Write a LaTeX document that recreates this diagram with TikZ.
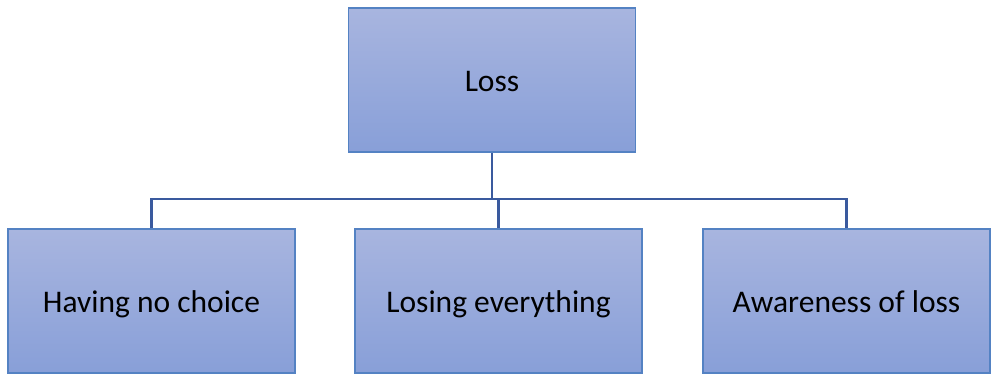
\documentclass[tikz,border=0pt]{standalone}
\usepackage{fontspec}
\setmainfont{Carlito}
\definecolor{boxtop}{RGB}{168,181,223}
\definecolor{boxbot}{RGB}{136,159,216}
\definecolor{boxline}{RGB}{84,130,195}
\definecolor{conn}{RGB}{58,90,158}
\begin{document}
\begin{tikzpicture}[x=1pt,y=-1pt,
  boxnode/.style={draw=boxline,line width=1.6pt,top color=boxtop,bottom color=boxbot,
    minimum width=287pt,minimum height=144pt,inner sep=0pt,text height=22pt,text depth=0pt,
    font=\fontsize{31.5}{36}\selectfont,text=black},
  connline/.style={draw=conn,line width=2.4pt}]
\useasboundingbox (0,0) rectangle (991,375);
\node[boxnode] (top) at (492,80) {Loss};
\node[boxnode] (b1) at (151.5,301) {Having no choice};
\node[boxnode] (b2) at (498.5,301) {Losing everything};
\node[boxnode] (b3) at (846.5,301) {Awareness of loss};
\coordinate (j) at (492,199);
\draw[connline] (top.south) -- (j);
\draw[connline] (b1.north) |- (j);
\draw[connline] (b3.north) |- (j);
\draw[connline] (b2.north) -- (b2.north |- j);
\end{tikzpicture}
\end{document}
